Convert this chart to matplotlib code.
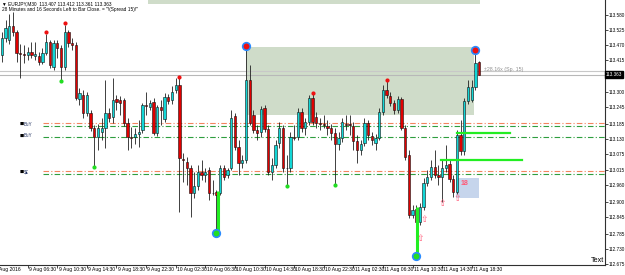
import matplotlib
matplotlib.use("Agg")
import matplotlib.pyplot as plt
import numpy as np
from matplotlib.patches import Rectangle

plt.rcParams['font.family'] = ['Liberation Sans', 'DejaVu Sans']

# ---------------- data ----------------
opens = [113.434,113.496,113.489,113.540,113.518,113.441,113.438,113.434,113.445,113.431,
         113.431,113.409,113.441,113.481,113.391,113.478,113.460,113.391,113.518,113.478,
         113.470,113.274,113.289,113.223,113.223,113.169,113.136,113.154,113.169,113.223,
         113.209,113.274,113.271,113.271,113.187,113.136,113.136,113.147,113.162,113.252,
         113.245,113.263,113.151,113.245,113.202,113.281,113.271,113.307,113.325,113.056,
         113.045,113.024,112.933,112.958,113.009,112.998,113.016,112.933,112.936,112.933,
         113.024,112.998,113.024,113.212,113.100,113.042,113.053,113.343,113.216,113.162,
         113.154,113.242,113.165,113.009,113.034,113.114,113.169,113.024,113.024,113.136,
         113.136,113.227,113.169,113.191,113.278,113.209,113.187,113.183,113.176,113.169,
         113.151,113.111,113.133,113.183,113.183,113.176,113.122,113.089,113.114,113.187,
         113.140,113.114,113.133,113.227,113.307,113.285,113.260,113.234,113.274,113.169,
         113.071,112.853,112.875,112.827,112.882,112.969,112.991,113.027,112.998,112.991,
         113.024,113.038,112.984,112.936,113.143,113.085,113.267,113.271,113.318,113.407]
highs = [113.518,113.561,113.583,113.590,113.525,113.474,113.470,113.463,113.481,113.481,
         113.445,113.460,113.510,113.489,113.489,113.489,113.470,113.543,113.525,113.496,
         113.481,113.314,113.307,113.300,113.234,113.180,113.183,113.205,113.343,113.242,
         113.351,113.289,113.285,113.278,113.205,113.172,113.169,113.198,113.260,113.300,
         113.271,113.278,113.252,113.271,113.296,113.292,113.321,113.351,113.354,113.078,
         113.063,113.034,113.009,113.034,113.053,113.024,113.027,112.980,112.944,113.034,
         113.034,113.024,113.234,113.223,113.125,113.071,113.467,113.398,113.234,113.180,
         113.249,113.252,113.180,113.060,113.125,113.191,113.180,113.071,113.154,113.180,
         113.242,113.242,113.205,113.289,113.296,113.227,113.205,113.216,113.198,113.183,
         113.169,113.154,113.205,113.216,113.216,113.191,113.143,113.125,113.205,113.198,
         113.154,113.147,113.242,113.325,113.343,113.300,113.271,113.285,113.281,113.180,
         113.089,112.889,112.889,112.896,112.987,113.016,113.053,113.089,113.034,113.053,
         113.107,113.053,112.998,113.162,113.198,113.278,113.343,113.343,113.452,113.412]
lows = [113.409,113.481,113.474,113.503,113.409,113.351,113.405,113.416,113.423,113.416,
        113.398,113.401,113.434,113.387,113.380,113.423,113.343,113.380,113.463,113.452,
        113.271,113.252,113.205,113.212,113.158,113.027,113.089,113.125,113.096,113.191,
        113.187,113.234,113.216,113.176,113.089,113.096,113.111,113.100,113.151,113.216,
        113.234,113.143,113.140,113.180,113.191,113.256,113.256,113.296,112.864,112.973,
        112.962,112.845,112.915,112.944,112.980,112.973,112.907,112.925,112.787,112.925,
        112.980,112.987,113.016,113.089,112.998,113.024,113.042,113.180,113.151,113.125,
        113.136,113.154,112.998,112.980,113.024,113.096,113.009,112.958,113.009,113.125,
        113.125,113.154,113.143,113.180,113.180,113.169,113.162,113.169,113.143,113.125,
        112.962,113.089,113.118,113.162,113.143,113.089,113.042,113.071,113.103,113.125,
        113.107,113.089,113.125,113.216,113.278,113.249,113.220,113.223,113.162,113.053,
        112.842,112.842,112.700,112.816,112.871,112.958,112.980,112.987,112.962,112.900,
        113.009,112.973,112.918,112.929,113.071,113.071,113.256,113.263,113.307,113.361]
closes = [113.496,113.532,113.540,113.518,113.441,113.438,113.434,113.445,113.434,113.438,
          113.409,113.441,113.481,113.398,113.478,113.460,113.391,113.518,113.478,113.470,
          113.278,113.296,113.223,113.289,113.169,113.136,113.169,113.169,113.223,113.205,
          113.271,113.263,113.260,113.187,113.136,113.134,113.147,113.154,113.252,113.249,
          113.260,113.151,113.245,113.234,113.281,113.267,113.300,113.325,113.060,113.054,
          113.024,112.933,112.958,113.009,112.998,113.009,112.933,112.931,112.925,113.024,
          112.991,113.016,113.205,113.100,113.042,113.053,113.343,113.187,113.162,113.151,
          113.238,113.165,113.009,113.034,113.107,113.169,113.024,113.022,113.136,113.134,
          113.227,113.169,113.191,113.278,113.191,113.187,113.185,113.181,113.169,113.151,
          113.111,113.133,113.191,113.180,113.181,113.122,113.089,113.111,113.187,113.143,
          113.125,113.133,113.227,113.307,113.289,113.260,113.234,113.274,113.169,113.063,
          112.853,112.871,112.827,112.882,112.969,112.991,113.027,112.998,112.991,113.024,
          113.034,112.984,112.936,113.143,113.085,113.267,113.318,113.318,113.405,113.363]

x_labels = ["9 Aug 06:30", "9 Aug 10:30", "9 Aug 14:30", "9 Aug 18:30", "9 Aug 22:30",
            "10 Aug 02:30", "10 Aug 06:30", "10 Aug 10:30", "10 Aug 14:30", "10 Aug 18:30",
            "10 Aug 22:30", "11 Aug 02:30", "11 Aug 06:30", "11 Aug 10:30", "11 Aug 14:30",
            "11 Aug 18:30"]
x_label_bars = [7, 15, 23, 31, 39, 47, 55, 63, 71, 79, 87, 95, 103, 111, 119, 127]
y_ticks = [112.675, 112.730, 112.785, 112.845, 112.900, 112.960, 113.015, 113.075,
           113.130, 113.185, 113.245, 113.300, 113.415, 113.470, 113.525, 113.580]

bid = 113.363
ask = 113.377
level_orange = [113.188, 113.011]
level_green = [113.177, 113.137, 113.002]

swing_high_bars = [12, 17, 48, 84, 104]
swing_high_px = [113.518, 113.551, 113.355, 113.297, 113.344]
swing_low_bars = [16, 25, 77, 90]
swing_low_px = [113.340, 113.028, 112.959, 112.963]
big_top_bars = [66, 128]
big_top_px = [113.467, 113.453]
big_bot_bars = [58, 112]
big_bot_px = [112.789, 112.705]

# ---------------- figure ----------------
W, H = 625, 275
fig = plt.figure(figsize=(W/100, H/100), dpi=100)
fig.patch.set_facecolor("white")
ax = fig.add_axes([0, 10/H, 605/W, 265/H])
ax.set_facecolor("white")

def px2x(p):
    return (p - 1.8) / 3.7

ax.set_xlim(px2x(0), px2x(605))
ax.set_ylim(112.671, 113.634)

n = len(opens)
xs = np.arange(n)
o = np.array(opens); h = np.array(highs); l = np.array(lows); c = np.array(closes)

# zones
ax.add_patch(Rectangle((px2x(246), 113.217), px2x(474) - px2x(246), 113.464 - 113.217,
                       facecolor="#CFDCC9", edgecolor="none", zorder=1))
ax.add_patch(Rectangle((px2x(148), 113.620), px2x(480) - px2x(148), 0.02,
                       facecolor="#CFDCC9", edgecolor="none", zorder=1, clip_on=True))
ax.add_patch(Rectangle((px2x(456), 112.916), px2x(479) - px2x(456), 112.988 - 112.916,
                       facecolor="#C6D5EC", edgecolor="none", zorder=1))

# levels
x_start = px2x(43)
for lv in level_orange:
    ax.plot([x_start, px2x(605)], [lv, lv], color="#F4845F", lw=0.8, ls=(0, (5, 2, 1, 2)), zorder=2)
for lv in level_green:
    ax.plot([x_start, px2x(605)], [lv, lv], color="#2E9E3E", lw=0.8, ls=(0, (5, 2, 1, 2)), zorder=2)
ax.axhline(ask, color="#C8C8C8", lw=0.8, zorder=2)
ax.axhline(bid, color="#B8B8B8", lw=0.8, zorder=2)

# left level labels
for py, lab in [(113.183, "BuY"), (113.141, "BuY"), (113.008, "$£")]:
    ax.text(px2x(20), py, "■", fontsize=3.2, color="black", ha="left", va="center",
            family=["DejaVu Sans"], zorder=6)
    ax.text(px2x(24), py, lab, fontsize=3.3, color="#203060", ha="left", va="center", zorder=6)

# candles
ax.vlines(xs, l, h, color="#202020", lw=0.6, zorder=3)
bull = c >= o
cols = np.where(bull, "#12D6D6", "#E00000")
bottoms = np.minimum(o, c)
heights = np.maximum(np.abs(c - o), 0.0012)
ax.bar(xs, heights, bottom=bottoms, width=0.62, color=cols, edgecolor="#101010",
       linewidth=0.4, zorder=4)

# green bright lines
ax.plot([112.3, 112.3], [112.882, 112.701], color="#22EE22", lw=2.2, zorder=5, solid_capstyle="butt")
ax.plot([58.3, 58.3], [112.941, 112.789], color="#22EE22", lw=2.2, zorder=5, solid_capstyle="butt")
ax.plot([px2x(457), px2x(510)], [113.150, 113.150], color="#22EE22", lw=1.6, zorder=5)
ax.plot([px2x(441), px2x(522)], [113.053, 113.053], color="#22EE22", lw=1.6, zorder=5)

# swing dots
ax.scatter(swing_high_bars, swing_high_px, s=9, color="#EE1111", zorder=6, linewidths=0)
ax.scatter(swing_low_bars, swing_low_px, s=9, color="#22DD22", zorder=6, linewidths=0)
ax.scatter(big_top_bars, big_top_px, s=30, facecolor="#EE1111", edgecolor="#2A8BFF", linewidths=1.2, zorder=6)
ax.scatter(big_bot_bars, big_bot_px, s=30, facecolor="#22DD22", edgecolor="#2A8BFF", linewidths=1.2, zorder=6)

# pink markers
pink = "#FF5A78"
for (bx, py) in [(119, 112.893), (123, 112.912), (114.1, 112.838), (113.0, 112.766)]:
    ax.text(bx, py, "⇧", color=pink, fontsize=6.5, ha="center", va="center", zorder=7,
            family=["DejaVu Sans"])
ax.text(px2x(465), 112.968, "18", color=pink, fontsize=5, ha="center", va="center", zorder=7,
        fontweight="bold")

# spines / ticks
for s in ["left", "top"]:
    ax.spines[s].set_visible(False)
for s in ["right", "bottom"]:
    ax.spines[s].set_color("#303030")
    ax.spines[s].set_linewidth(0.8)
ax.yaxis.tick_right()
ax.set_yticks(y_ticks)
ax.set_yticklabels(["%.3f" % v for v in y_ticks])
ax.tick_params(axis="y", length=1.8, width=0.5, pad=0.6, labelsize=3.3, colors="black")
ax.set_xticks(x_label_bars)
ax.set_xticklabels([""] * len(x_label_bars))
ax.tick_params(axis="x", length=2.5, width=0.5)
for b, lab in zip(x_label_bars, x_labels):
    ax.annotate(lab, xy=(b, 0), xycoords=("data", "axes fraction"), xytext=(1.0, -1.5),
                textcoords="offset points", ha="left", va="top", fontsize=3.6,
                annotation_clip=False)
ax.annotate("9 Aug 2016", xy=(px2x(-6), 0), xycoords=("data", "axes fraction"), xytext=(1.0, -1.5),
            textcoords="offset points", ha="left", va="top", fontsize=3.6, annotation_clip=False)

# price boxes
ax.annotate("%.3f" % bid, xy=(1, bid), xycoords=("axes fraction", "data"), xytext=(0.8, 0),
            textcoords="offset points", ha="left", va="center", fontsize=3.3, color="white",
            bbox=dict(boxstyle="square,pad=0.15", fc="black", ec="black"), annotation_clip=False)

# texts
fig.text(2/W, 1 - 3.5/H, "▼ EURJPY,M30  113.407 113.412 113.361 113.363", fontsize=3.4,
         ha="left", va="center")
fig.text(2/W, 1 - 10/H, '28 Minutes and 16 Seconds Left to Bar Close. = "!(Spread 15)!"', fontsize=3.4,
         ha="left", va="center")
ax.text(px2x(484), 113.383, "±28.16x (Sp. 15)", fontsize=3.8, color="#909090", ha="left", va="center")
ax.text(px2x(604), 112.674, "Text", fontsize=5.2, ha="right", va="bottom")

fig.savefig("out.png", dpi=100)
